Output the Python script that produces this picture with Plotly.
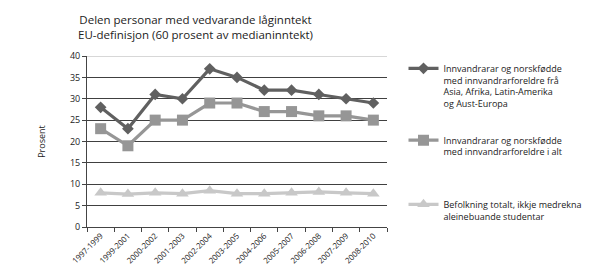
import plotly.graph_objects as go

categories = ["1997-1999", "1999-2001", "2000-2002", "2001-2003", "2002-2004", "2003-2005",
              "2004-2006", "2005-2007", "2006-2008", "2007-2009", "2008-2010"]
asia_afrika = [28, 23, 31, 30, 37, 35, 32, 32, 31, 30, 29]
innvandrar_alt = [23, 19, 25, 25, 29, 29, 27, 27, 26, 26, 25]
befolkning = [8, 7.7, 8, 7.8, 8.5, 7.8, 7.8, 8, 8.2, 8, 7.8]
y_ticks = [0, 5, 10, 15, 20, 25, 30, 35, 40]

names = [
    "Innvandrarar og norskfødde<br>med innvandrarforeldre frå<br>Asia, Afrika, Latin-Amerika<br>og Aust-Europa",
    "Innvandrarar og norskfødde<br>med innvandrarforeldre i alt",
    "Befolkning totalt, ikkje medrekna<br>aleinebuande studentar",
]
colors = ["#606060", "#969696", "#c8c8c8"]
symbols = ["diamond", "square", "triangle-up"]
sizes = [9, 11, 11]
series = [asia_afrika, innvandrar_alt, befolkning]
legends = ["legend", "legend2", "legend3"]

FONT = "Open Sans"
fig = go.Figure()
for s, n, c, sym, sz, lg in zip(series, names, colors, symbols, sizes, legends):
    fig.add_trace(go.Scatter(
        x=categories, y=s, name=n, mode="lines+markers",
        line=dict(color=c, width=3.2),
        marker=dict(symbol=sym, size=sz, color=c),
        legend=lg, showlegend=True,
    ))

leg_common = dict(font=dict(family=FONT, size=9, color="#222"), bgcolor="rgba(0,0,0,0)",
                  xanchor="left", yanchor="top", itemwidth=30, valign="top")
fig.update_layout(
    width=600, height=278,
    showlegend=True,
    margin=dict(l=87, r=202, t=56, b=51),
    paper_bgcolor="white", plot_bgcolor="white",
    font=dict(family=FONT, size=9, color="#222"),
    legend=dict(x=1.055, y=1.0, **leg_common),
    legend2=dict(x=1.055, y=0.58, **leg_common),
    legend3=dict(x=1.055, y=0.205, **leg_common),
    xaxis=dict(type="category", tickangle=-45, showgrid=False, showline=True, linecolor="#444",
               linewidth=1, ticks="outside", tickson="boundaries", ticklen=4, tickcolor="#444",
               tickfont=dict(family=FONT, size=8, color="#222"), range=[-0.5, 10.5]),
    yaxis=dict(range=[0, 40], tickvals=y_ticks, showgrid=True, gridcolor="#404040", gridwidth=1,
               showline=True, linecolor="#444", linewidth=1, ticks="outside", ticklen=4,
               tickcolor="#444", zeroline=False,
               tickfont=dict(family=FONT, size=9, color="#222"),
               title=dict(text="Prosent", font=dict(family=FONT, size=9, color="#222"), standoff=22)),
)
fig.add_annotation(text="Delen personar med vedvarande låginntekt<br>EU-definisjon (60 prosent av medianinntekt)",
                   xref="paper", yref="paper", x=0.363, y=1.0, yshift=46, xanchor="center",
                   yanchor="top", showarrow=False, align="center",
                   font=dict(family=FONT, size=11.5, color="#222"))
fig.add_shape(type="line", xref="paper", yref="y", x0=0, x1=1, y0=40, y1=40,
              line=dict(color="#b0b0b0", width=1))
fig.write_html("out.html")
